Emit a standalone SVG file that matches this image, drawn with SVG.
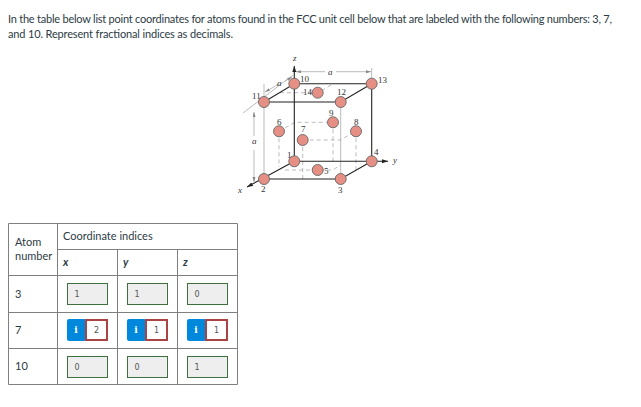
<svg xmlns="http://www.w3.org/2000/svg" width="641" height="407" viewBox="0 0 641 407">
<style>
.t{font-family:Lato,"Liberation Sans",sans-serif;font-size:11px;fill:#2d3b45}
.h{font-family:Lato,"Liberation Sans",sans-serif;font-size:11px;fill:#2d3b45}
.i{font-family:Lato,"Liberation Sans",sans-serif;font-size:11px;font-style:italic;font-weight:bold;fill:#2d3b45}
.m{font-family:"DejaVu Sans",sans-serif;font-size:8px;fill:#555;text-anchor:middle}
.ok{fill:#eee;stroke:#3f6f3f;stroke-width:1}
.bad{fill:#fff;stroke:#a44;stroke-width:2}
.blue{fill:#0088dd}
.b{font-family:"DejaVu Serif",serif;font-size:9px;font-weight:bold;fill:#fff;text-anchor:middle}
.g{stroke:#808080;stroke-width:1;fill:none}
.e{stroke:#222;stroke-width:1.1;fill:none}
.gl{stroke:#aaa;stroke-width:.8;fill:none}
.d{stroke:#aaa;stroke-width:.8;fill:none;stroke-dasharray:4 3}
.a{fill:#e58f85;stroke:#666;stroke-width:.9}
.n{font-family:"Liberation Serif",serif;font-size:9px;fill:#333}
.v{font-family:"Liberation Serif",serif;font-size:9px;font-style:italic;fill:#333}
</style>
<defs>
<marker id="ar" markerUnits="userSpaceOnUse" markerWidth="7" markerHeight="5" refX="6" refY="2" orient="auto"><path d="M0 0L6 2L0 4z" fill="#222"/></marker>
<marker id="ag" markerUnits="userSpaceOnUse" markerWidth="6" markerHeight="4" refX="5" refY="1.5" orient="auto-start-reverse"><path d="M0 0L5 1.5L0 3z" fill="#888"/></marker>
</defs>
<rect width="641" height="407" fill="#fff"/>
<text class="t" x="8" y="23" textLength="604">In the table below list point coordinates for atoms found in the FCC unit cell below that are labeled with the following numbers: 3, 7,</text>
<text class="t" x="8" y="38" textLength="225">and 10. Represent fractional indices as decimals.</text>

<g id="cell-connectors">
<path class="gl" d="M264 102V179M340.7 102V179"/>
<path class="d" d="M279 131.3L295 122.3H333M302.7 140H340L356 131.3M279 131.3V167M333 122.3V162M356 131.3V170M302.7 140V179M285 170H333L340 165M280 92.7H317.7L333 84"/>
<path class="gl" d="M243 113L293 75M264 84V100M371.7 68V82"/>
<path class="gl" d="M296 71.7H325" marker-start="url(#ag)"/>
<path class="gl" d="M336 71.7H371" marker-end="url(#ag)"/>
<path class="gl" d="M265 92L279 84" marker-start="url(#ag)"/>
<path class="gl" d="M285 81L292 77" marker-end="url(#ag)"/>
<path class="gl" d="M254 112V136" marker-start="url(#ag)"/>
<path class="gl" d="M254 150V182" marker-end="url(#ag)"/>
<path class="e" d="M264 102H340.7L371.7 83.7H294.3L264 102M371.7 83.7V161.3M264 179H340.7L371.7 161.3"/>
<path class="e" d="M294.3 161.3H388" marker-end="url(#ar)"/>
<path class="e" d="M294.3 161.3V66" marker-end="url(#ar)"/>
<path class="e" d="M294.3 161.3L247 187" marker-end="url(#ar)"/>
</g>

<g id="atom-1"><circle class="a" cx="294.3" cy="161.3" r="5.5"/><text class="n" x="287" y="158">1</text></g>
<g id="atom-2"><circle class="a" cx="264" cy="179" r="5.5"/><text class="n" x="261" y="192">2</text></g>
<g id="atom-3"><circle class="a" cx="340.7" cy="179" r="5.5"/><text class="n" x="338" y="193">3</text></g>
<g id="atom-4"><circle class="a" cx="371.7" cy="161.3" r="5.5"/><text class="n" x="374" y="155">4</text></g>
<g id="atom-5"><circle class="a" cx="317.7" cy="170" r="5.5"/><text class="n" x="324" y="174">5</text></g>
<g id="atom-6"><circle class="a" cx="279" cy="131.3" r="5.5"/><text class="n" x="277" y="125">6</text></g>
<g id="atom-7"><circle class="a" cx="302.7" cy="140" r="5.5"/><text class="n" x="301" y="132">7</text></g>
<g id="atom-8"><circle class="a" cx="356" cy="131.3" r="5.5"/><text class="n" x="354" y="125">8</text></g>
<g id="atom-9"><circle class="a" cx="333" cy="122.3" r="5.5"/><text class="n" x="329" y="116">9</text></g>
<g id="atom-10"><circle class="a" cx="294.3" cy="83.7" r="5.5"/><text class="n" x="300" y="82">10</text></g>
<g id="atom-11"><circle class="a" cx="264" cy="102" r="5.5"/><text class="n" x="252" y="99">11</text></g>
<g id="atom-12"><circle class="a" cx="340.7" cy="102" r="5.5"/><text class="n" x="337" y="95">12</text></g>
<g id="atom-13"><circle class="a" cx="371.7" cy="83.7" r="5.5"/><text class="n" x="378" y="83">13</text></g>
<g id="atom-14"><circle class="a" cx="317.7" cy="92.7" r="5.5"/><text class="n" x="303" y="95">14</text></g>
<g id="axis-labels">
<text class="v" x="293" y="61">z</text><text class="v" x="393" y="163">y</text><text class="v" x="238" y="193">x</text>
<text class="v" x="328" y="75">a</text><text class="v" x="277" y="86">a</text><text class="v" x="252" y="144">a</text>
</g>

<g id="table">
<path class="g" d="M8.5 223.5H237.5V384.5H8.5ZM57.5 223.5V384.5M117.5 249.5V384.5M177.5 249.5V384.5M57.5 249.5H237.5M8.5 275.5H237.5M8.5 312.5H237.5M8.5 348.5H237.5"/>
<text class="h" x="15" y="246">Atom</text><text class="h" x="15" y="260">number</text>
<text class="h" x="63" y="240">Coordinate indices</text>
<text class="i" x="63" y="266">x</text><text class="i" x="123" y="266">y</text><text class="i" x="183" y="266">z</text>
<text class="h" x="15" y="298">3</text><text class="h" x="15" y="334">7</text><text class="h" x="15" y="370">10</text>
</g>

<g id="row-3">
<rect class="ok" x="67.5" y="283.5" width="40" height="21"/><text class="m" x="77" y="297">1</text>
<rect class="ok" x="127.5" y="283.5" width="40" height="21"/><text class="m" x="137" y="297">1</text>
<rect class="ok" x="187.5" y="283.5" width="40" height="21"/><text class="m" x="197" y="297">0</text>
</g>
<g id="row-7">
<rect class="blue" x="67" y="319" width="19" height="22" rx="2"/><text class="b" x="76" y="333">i</text><rect class="bad" x="86" y="320" width="21" height="20"/><text class="m" x="96.500" y="333">2</text>
<rect class="blue" x="127" y="319" width="19" height="22" rx="2"/><text class="b" x="136" y="333">i</text><rect class="bad" x="146" y="320" width="21" height="20"/><text class="m" x="156.500" y="333">1</text>
<rect class="blue" x="187" y="319" width="19" height="22" rx="2"/><text class="b" x="196" y="333">i</text><rect class="bad" x="206" y="320" width="21" height="20"/><text class="m" x="216.500" y="333">1</text>
</g>
<g id="row-10">
<rect class="ok" x="67.5" y="356.5" width="40" height="21"/><text class="m" x="77" y="370">0</text>
<rect class="ok" x="127.5" y="356.5" width="40" height="21"/><text class="m" x="137" y="370">0</text>
<rect class="ok" x="187.5" y="356.5" width="40" height="21"/><text class="m" x="197" y="370">1</text>
</g>
</svg>
